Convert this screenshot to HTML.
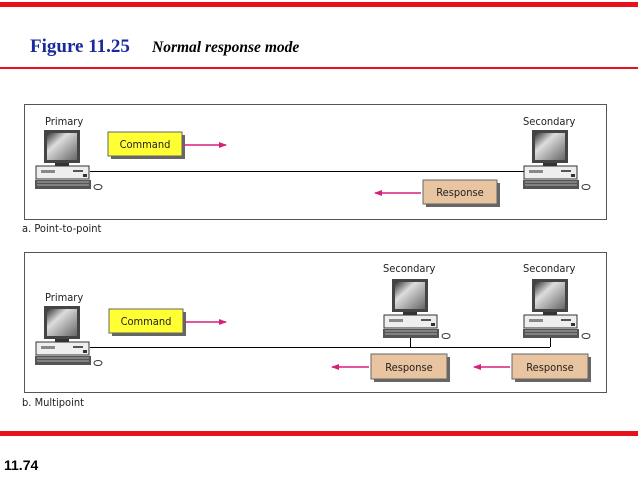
<!DOCTYPE html><html><head><style>body{margin:0;background:#fff}svg{display:block}</style></head><body>
<svg width="638" height="479" viewBox="0 0 638 479" xmlns="http://www.w3.org/2000/svg">
<defs>
<linearGradient id="scr" x1="0" y1="0" x2="1" y2="1"><stop offset="0" stop-color="#333"/><stop offset="0.35" stop-color="#ddd"/><stop offset="1" stop-color="#666"/></linearGradient>
<g id="pc">
<rect x="9" y="0" width="36" height="33" fill="#444"/>
<rect x="12" y="3" width="30" height="27" fill="url(#scr)"/>
<rect x="20" y="33" width="14" height="3" fill="#333"/>
<rect x="1" y="36" width="53" height="13" fill="#eee" stroke="#333" stroke-width="1"/>
<rect x="6" y="40" width="14" height="3" fill="#888"/>
<rect x="38" y="40" width="10" height="2" fill="#555"/>
<rect x="48" y="44" width="4" height="3" fill="#333"/>
<rect x="0" y="50" width="56" height="9" fill="#555"/>
<path d="M2 52H54M2 55H54" stroke="#ccc" stroke-width="0.8"/>
<ellipse cx="63" cy="57" rx="4" ry="2.5" fill="#fff" stroke="#333"/>
</g>
<marker id="ah" markerWidth="8" markerHeight="6" refX="7" refY="3" orient="auto" markerUnits="userSpaceOnUse"><path d="M0 0L8 3L0 6z" fill="#d6217c"/></marker>
</defs>
<rect x="0" y="2" width="638" height="5" fill="#e8101a"/>
<text x="30" y="52" font-family="Liberation Serif" font-weight="bold" font-size="19" fill="#1a2a9a">Figure 11.25</text>
<text x="152" y="52" font-family="Liberation Serif" font-weight="bold" font-style="italic" font-size="15.5" fill="#000">Normal response mode</text>
<rect x="0" y="67" width="638" height="2" fill="#e8101a"/>
<rect x="0" y="431" width="638" height="5" fill="#e8101a"/>
<text x="4" y="470" font-family="Liberation Sans" font-weight="bold" font-size="14">11.74</text>
<g font-family="DejaVu Sans Condensed, Liberation Sans" font-size="11" fill="#222">
<rect x="24.5" y="104.5" width="582" height="115" fill="#fff" stroke="#555"/>
<rect x="24.5" y="252.5" width="582" height="140" fill="#fff" stroke="#555"/>
<text x="22" y="232">a. Point-to-point</text>
<text x="22" y="406">b. Multipoint</text>
<line x1="90" y1="171.5" x2="530" y2="171.5" stroke="#000"/>
<use href="#pc" x="35" y="130"/><text x="45" y="125">Primary</text>
<use href="#pc" x="523" y="130"/><text x="523" y="125">Secondary</text>
<rect x="111" y="135" width="74" height="24" fill="#666"/>
<rect x="108" y="132" width="74" height="24" fill="#ffff33" stroke="#666"/>
<text x="145" y="148" text-anchor="middle">Command</text>
<line x1="184" y1="145" x2="226" y2="145" stroke="#d6217c" stroke-width="1.5" marker-end="url(#ah)"/>
<rect x="426" y="183" width="74" height="24" fill="#666"/>
<rect x="423" y="180" width="74" height="24" fill="#e8c4a0" stroke="#666"/>
<text x="460" y="196" text-anchor="middle">Response</text>
<line x1="421" y1="193" x2="375" y2="193" stroke="#d6217c" stroke-width="1.5" marker-end="url(#ah)"/>
<line x1="90" y1="347.5" x2="550" y2="347.5" stroke="#000"/>
<line x1="410.5" y1="337" x2="410.5" y2="347" stroke="#000"/>
<line x1="550.5" y1="337" x2="550.5" y2="347" stroke="#000"/>
<use href="#pc" x="35" y="306"/><text x="45" y="301">Primary</text>
<use href="#pc" x="383" y="279"/><text x="383" y="272">Secondary</text>
<use href="#pc" x="523" y="279"/><text x="523" y="272">Secondary</text>
<rect x="112" y="312" width="74" height="24" fill="#666"/>
<rect x="109" y="309" width="74" height="24" fill="#ffff33" stroke="#666"/>
<text x="146" y="325" text-anchor="middle">Command</text>
<line x1="185" y1="322" x2="226" y2="322" stroke="#d6217c" stroke-width="1.5" marker-end="url(#ah)"/>
<rect x="374" y="357" width="76" height="25" fill="#666"/>
<rect x="371" y="354" width="76" height="25" fill="#e8c4a0" stroke="#666"/>
<text x="409" y="371" text-anchor="middle">Response</text>
<line x1="369" y1="367" x2="332" y2="367" stroke="#d6217c" stroke-width="1.5" marker-end="url(#ah)"/>
<rect x="515" y="357" width="76" height="25" fill="#666"/>
<rect x="512" y="354" width="76" height="25" fill="#e8c4a0" stroke="#666"/>
<text x="550" y="371" text-anchor="middle">Response</text>
<line x1="510" y1="367" x2="474" y2="367" stroke="#d6217c" stroke-width="1.5" marker-end="url(#ah)"/>
</g>
</svg>
</body></html>
